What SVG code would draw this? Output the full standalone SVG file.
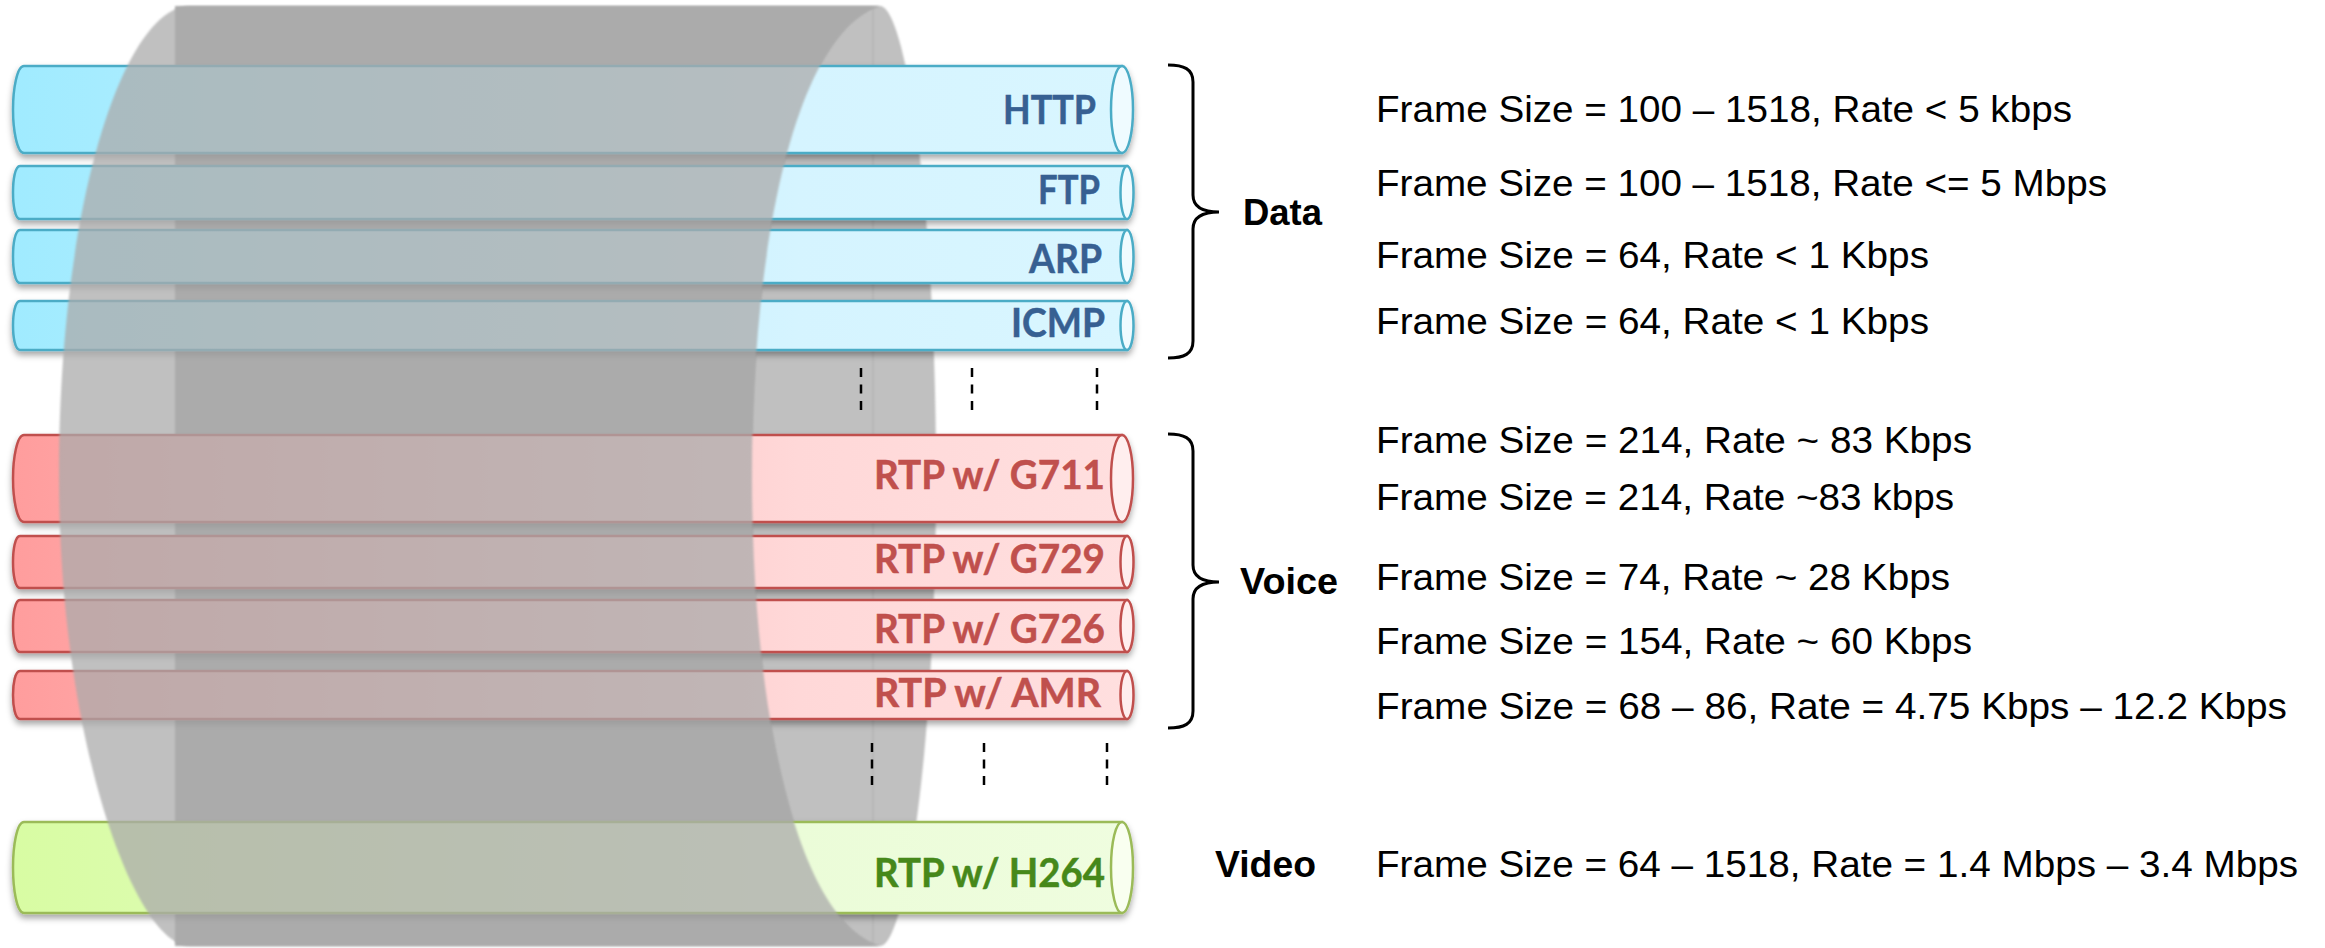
<svg xmlns="http://www.w3.org/2000/svg" width="2325" height="948" viewBox="0 0 2325 948">
<style>
.lbl{font-family:"Lato","Open Sans",sans-serif;font-weight:700;font-size:41px;stroke-width:.5px}
.blue{fill:#376092;stroke:#376092}.red{fill:#c0504d;stroke:#c0504d}.green{fill:#46881a;stroke:#46881a}
.info{font-family:"Liberation Sans",Arial,sans-serif;font-size:37px;fill:#000}
.grp{font-family:"Liberation Sans",Arial,sans-serif;font-size:37px;font-weight:700;fill:#000}
.tb{fill:url(#gb);stroke:#4bacc6;stroke-width:2.5}.ee{fill:#effbff;stroke:#4bacc6;stroke-width:2.5}
.tr{fill:url(#gr);stroke:#c0504d;stroke-width:2.5}.er{fill:#ffeeee;stroke:#c0504d;stroke-width:2.5}
.tg{fill:url(#gg);stroke:#9bbb59;stroke-width:2.5}.eg{fill:#f9fff0;stroke:#9bbb59;stroke-width:2.5}
.brace{fill:none;stroke:#000;stroke-width:3}
.dash{fill:none;stroke:#000;stroke-width:2.5;stroke-dasharray:9 7.5}
</style>
<defs>
<linearGradient id="gb" gradientUnits="userSpaceOnUse" x1="13" y1="0" x2="1133" y2="0"><stop offset="0" stop-color="#a0ebff"/><stop offset=".7" stop-color="#d5f4ff"/><stop offset="1" stop-color="#d9f6ff"/></linearGradient>
<linearGradient id="gr" gradientUnits="userSpaceOnUse" x1="13" y1="0" x2="1133" y2="0"><stop offset="0" stop-color="#ff9d9d"/><stop offset=".7" stop-color="#ffd8d8"/><stop offset="1" stop-color="#ffdfdf"/></linearGradient>
<linearGradient id="gg" gradientUnits="userSpaceOnUse" x1="13" y1="0" x2="1133" y2="0"><stop offset="0" stop-color="#d8fca3"/><stop offset=".7" stop-color="#ebfcd8"/><stop offset="1" stop-color="#effddf"/></linearGradient>
<filter id="sh" x="-2%" y="-20%" width="104%" height="150%"><feDropShadow dx="0" dy="4" stdDeviation="3" flood-color="#000" flood-opacity=".35"/></filter>
<filter id="soft" x="-2%" y="-2%" width="104%" height="104%"><feGaussianBlur stdDeviation="1"/></filter>
</defs>
<rect width="2325" height="948" fill="#fff"/>
<g id="barrel-back" filter="url(#soft)">
<path d="M175,6 L880,6 C905,6 936,200 936,476 C936,752 905,946 880,946 L175,946 Z" fill="#c0c0c0"/>
<path d="M175,6 L880,6 C800,30 752,230 752,476 C752,722 800,922 880,946 L175,946 Z" fill="#ababab"/>
<path d="M873,6 V946" stroke="#b2b2b2" stroke-width="1.5" fill="none"/>
</g>
<g id="tube-http" filter="url(#sh)"><path class="tb" d="M24,66 H1122 V153 H24 C17,153 13,130 13,109.500 C13,89 17,66 24,66 Z"/><ellipse class="ee" cx="1122" cy="109.500" rx="11" ry="43.500"/></g>
<g id="tube-ftp" filter="url(#sh)"><path class="tb" d="M20,166 H1127 V219 H20 C15,219 13,205 13,192.500 C13,180 15,166 20,166 Z"/><ellipse class="ee" cx="1127" cy="192.500" rx="6.500" ry="26.500"/></g>
<g id="tube-arp" filter="url(#sh)"><path class="tb" d="M20,230 H1127 V283 H20 C15,283 13,269 13,256.500 C13,244 15,230 20,230 Z"/><ellipse class="ee" cx="1127" cy="256.500" rx="6.500" ry="26.500"/></g>
<g id="tube-icmp" filter="url(#sh)"><path class="tb" d="M20,301 H1127 V350 H20 C15,350 13,337 13,325.500 C13,314 15,301 20,301 Z"/><ellipse class="ee" cx="1127" cy="325.500" rx="6.500" ry="24.500"/></g>
<g id="tube-g711" filter="url(#sh)"><path class="tr" d="M24,435 H1122 V522 H24 C17,522 13,499 13,478.500 C13,458 17,435 24,435 Z"/><ellipse class="er" cx="1122" cy="478.500" rx="11" ry="43.500"/></g>
<g id="tube-g729" filter="url(#sh)"><path class="tr" d="M20,536 H1127 V588 H20 C15,588 13,574 13,562 C13,550 15,536 20,536 Z"/><ellipse class="er" cx="1127" cy="562" rx="6.500" ry="26"/></g>
<g id="tube-g726" filter="url(#sh)"><path class="tr" d="M20,600 H1127 V652 H20 C15,652 13,638 13,626 C13,614 15,600 20,600 Z"/><ellipse class="er" cx="1127" cy="626" rx="6.500" ry="26"/></g>
<g id="tube-amr" filter="url(#sh)"><path class="tr" d="M20,671 H1127 V719 H20 C15,719 13,706 13,695 C13,684 15,671 20,671 Z"/><ellipse class="er" cx="1127" cy="695" rx="6.500" ry="24"/></g>
<g id="tube-h264" filter="url(#sh)"><path class="tg" d="M24,822 H1122 V913 H24 C17,913 13,890 13,867.500 C13,845 17,822 24,822 Z"/><ellipse class="eg" cx="1122" cy="867.500" rx="11" ry="45.500"/></g>
<g id="barrel-front" filter="url(#soft)">
<path d="M190,6 L880,6 C800,30 752,230 752,476 C752,722 800,922 880,946 L190,946 C135,946 59,740 59,476 C59,200 125,6 190,6 Z" fill="#ababab" fill-opacity=".75"/>
</g>
<g id="labels-tubes">
<text class="lbl blue" x="1003" y="124" textLength="93" lengthAdjust="spacingAndGlyphs">HTTP</text>
<text class="lbl blue" x="1038" y="204" textLength="62" lengthAdjust="spacingAndGlyphs">FTP</text>
<text class="lbl blue" x="1029" y="273" textLength="73" lengthAdjust="spacingAndGlyphs">ARP</text>
<text class="lbl blue" x="1011" y="337" textLength="94" lengthAdjust="spacingAndGlyphs">ICMP</text>
<text class="lbl red" x="874" y="489" textLength="231" lengthAdjust="spacingAndGlyphs">RTP w/ G711</text>
<text class="lbl red" x="874" y="573" textLength="231" lengthAdjust="spacingAndGlyphs">RTP w/ G729</text>
<text class="lbl red" x="874" y="643" textLength="231" lengthAdjust="spacingAndGlyphs">RTP w/ G726</text>
<text class="lbl red" x="874" y="707" textLength="227" lengthAdjust="spacingAndGlyphs">RTP w/ AMR</text>
<text class="lbl green" x="874" y="887" textLength="231" lengthAdjust="spacingAndGlyphs">RTP w/ H264</text>
</g>
<g id="connectors">
<path class="brace" d="M1168,65 C1184,65 1193,69 1193,82 V195 C1193,207 1203,212 1219,212 C1203,212 1193,217 1193,229 V341 C1193,354 1184,358 1168,358"/>
<path class="brace" d="M1168,434 C1184,434 1193,438 1193,451 V565 C1193,577 1203,582 1219,582 C1203,582 1193,587 1193,599 V711 C1193,724 1184,728 1168,728"/>
<path class="dash" d="M861,368 V410 M972,368 V410 M1097,368 V410"/>
<path class="dash" d="M872,743 V786 M984,743 V786 M1107,743 V786"/>
</g>
<g id="group-labels">
<text class="grp" x="1243" y="225" textLength="79" lengthAdjust="spacingAndGlyphs">Data</text>
<text class="grp" x="1240" y="594" textLength="98" lengthAdjust="spacingAndGlyphs">Voice</text>
<text class="grp" x="1215" y="877" textLength="101" lengthAdjust="spacingAndGlyphs">Video</text>
</g>
<g id="frame-info">
<text class="info" x="1376" y="122" textLength="696" lengthAdjust="spacingAndGlyphs">Frame Size = 100 – 1518, Rate &lt; 5 kbps</text>
<text class="info" x="1376" y="196" textLength="731" lengthAdjust="spacingAndGlyphs">Frame Size = 100 – 1518, Rate &lt;= 5 Mbps</text>
<text class="info" x="1376" y="268" textLength="553" lengthAdjust="spacingAndGlyphs">Frame Size = 64, Rate &lt; 1 Kbps</text>
<text class="info" x="1376" y="334" textLength="553" lengthAdjust="spacingAndGlyphs">Frame Size = 64, Rate &lt; 1 Kbps</text>
<text class="info" x="1376" y="453" textLength="596" lengthAdjust="spacingAndGlyphs">Frame Size = 214, Rate ~ 83 Kbps</text>
<text class="info" x="1376" y="510" textLength="578" lengthAdjust="spacingAndGlyphs">Frame Size = 214, Rate ~83 kbps</text>
<text class="info" x="1376" y="590" textLength="574" lengthAdjust="spacingAndGlyphs">Frame Size = 74, Rate ~ 28 Kbps</text>
<text class="info" x="1376" y="654" textLength="596" lengthAdjust="spacingAndGlyphs">Frame Size = 154, Rate ~ 60 Kbps</text>
<text class="info" x="1376" y="719" textLength="911" lengthAdjust="spacingAndGlyphs">Frame Size = 68 – 86, Rate = 4.75 Kbps – 12.2 Kbps</text>
<text class="info" x="1376" y="877" textLength="922" lengthAdjust="spacingAndGlyphs">Frame Size = 64 – 1518, Rate = 1.4 Mbps – 3.4 Mbps</text>
</g>
</svg>
